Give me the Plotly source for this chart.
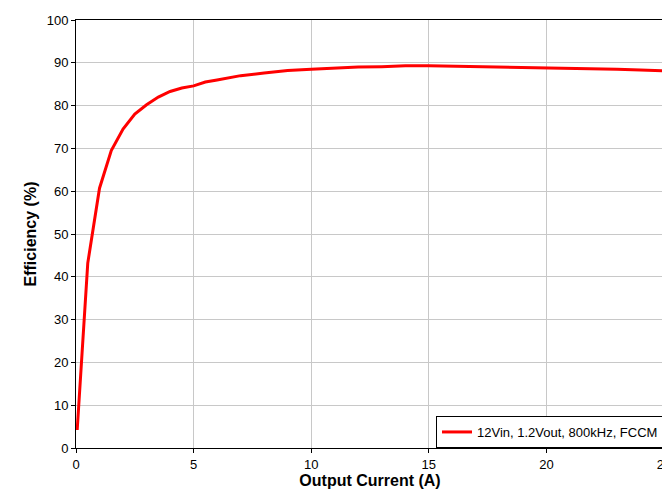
import plotly.graph_objects as go

current = [0.05, 0.5, 1, 1.5, 2, 2.5, 3, 3.5, 4, 4.5, 5, 5.5, 6, 7, 8, 9, 10, 11, 12, 13, 14, 15, 16, 17, 18, 19, 20, 21, 22, 23, 24, 25]
efficiency = [4.2, 43.2, 60.7, 69.5, 74.5, 78, 80.2, 82, 83.3, 84.1, 84.6, 85.5, 86, 87, 87.6, 88.2, 88.5, 88.8, 89, 89.1, 89.3, 89.3, 89.2, 89.2, 89.1, 89, 88.9, 88.8, 88.7, 88.5, 88.3, 88.1]

fig = go.Figure(go.Scatter(x=current, y=efficiency, mode="lines",
                           line=dict(color="#ff0000", width=3),
                           name="12Vin, 1.2Vout, 800kHz, FCCM"))
axis_common = dict(showline=True, linecolor="black", linewidth=1, mirror=True,
                   gridcolor="#c8c8c8", gridwidth=1, zeroline=False, automargin=False,
                   ticks="outside", ticklen=4, tickcolor="black",
                   tickfont=dict(family="Liberation Sans, Arial", size=13, color="black"))
fig.update_xaxes(range=[0, 25], dtick=5,
                 title=dict(text="<b>Output Current (A)</b>", font=dict(family="Liberation Sans, Arial", size=16, color="black"), standoff=2),
                 **axis_common)
fig.update_yaxes(range=[0, 100], dtick=10,
                 title=dict(text="<b>Efficiency (%)</b>", font=dict(family="Liberation Sans, Arial", size=16, color="black"), standoff=6),
                 **axis_common)
fig.update_layout(width=670, height=491, plot_bgcolor="white", paper_bgcolor="white",
                  margin=dict(l=68, r=14, t=12, b=51),
                  showlegend=True,
                  legend=dict(x=1, y=0, xanchor="right", yanchor="bottom",
                              bordercolor="black", borderwidth=1, bgcolor="white",
                              font=dict(family="Liberation Sans, Arial", size=13, color="black")))
fig.write_html("out.html")
